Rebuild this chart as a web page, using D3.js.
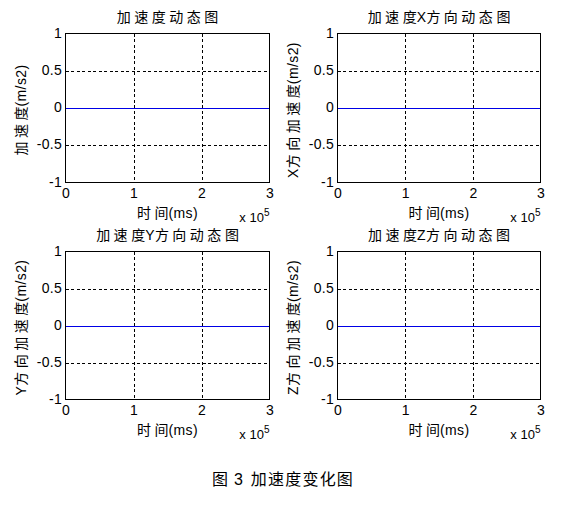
<!DOCTYPE html>
<html><head><meta charset="utf-8">
<script src="https://cdn.jsdelivr.net/npm/d3@7"></script>
<style>
html,body{margin:0;padding:0;background:#fff;}
svg{display:block;}
</style></head>
<body>
<svg id="chart" width="568" height="512"></svg>
<script>
// ---- data ----
const timeMs = [0, 50000, 100000, 150000, 200000, 250000, 300000];
const accTotal = [0, 0, 0, 0, 0, 0, 0];
const accX = [0, 0, 0, 0, 0, 0, 0];
const accY = [0, 0, 0, 0, 0, 0, 0];
const accZ = [0, 0, 0, 0, 0, 0, 0];
const xTickValues = [0, 100000, 200000, 300000];
const xTickLabels = ["0", "1", "2", "3"];
const yTickValues = [-1, -0.5, 0, 0.5, 1];
const yTickLabels = ["-1", "-0.5", "0", "0.5", "1"];
const titles = ["加速度动态图", "加速度X方向动态图", "加速度Y方向动态图", "加速度Z方向动态图"];
const yLabels = ["加速度(m/s2)", "X方向加速度(m/s2)", "Y方向加速度(m/s2)", "Z方向加速度(m/s2)"];
const xLabel = "时间(ms)";
const xExponent = "5";
const caption = ["图", "3", "加速度变化图"];
const seriesList = [accTotal, accX, accY, accZ];

// ---- layout ----
const cols = [[65.5, 269.5], [337.5, 540.5]];
const rows = [[33.5, 182.5], [251.5, 399.5]];
const CJK = '"Noto Sans CJK SC", "Noto Sans CJK JP", sans-serif';
const LAT = '"Liberation Sans", Arial, sans-serif';

const svg = d3.select("#chart");

function isCJK(ch){ return /[\u3000-\u9fff\uff00-\uffef]/.test(ch); }
function richText(sel, str, cjkSize, latSize, cjkSpacing){
  const chars = Array.from(str);
  const runs = [];
  chars.forEach((ch, k) => {
    const c = isCJK(ch);
    const next = chars[k + 1];
    // spacing only between consecutive CJK chars
    const sp = c && next !== undefined && isCJK(next) ? cjkSpacing : (c ? 0 : 0.4);
    const key = (c ? "c" : "l") + sp;
    if (runs.length && runs[runs.length - 1].key === key) runs[runs.length - 1].t += ch;
    else runs.push({key, c, sp, t: ch});
  });
  runs.forEach(r => {
    sel.append("tspan")
      .attr("font-family", r.c ? CJK : LAT)
      .attr("font-size", r.c ? cjkSize : latSize)
      .attr("letter-spacing", r.sp)
      .text(r.t);
  });
  return sel;
}

seriesList.forEach((vals, i) => {
  const [x0, x1] = cols[i % 2];
  const [y0, y1] = rows[Math.floor(i / 2)];
  const x = d3.scaleLinear().domain([0, 300000]).range([x0, x1]);
  const y = d3.scaleLinear().domain([-1, 1]).range([y1, y0]);
  const g = svg.append("g");

  // grid
  g.selectAll(".gx").data(xTickValues.slice(1, -1)).join("line")
    .attr("x1", d => Math.round(x(d)) + 0.5).attr("x2", d => Math.round(x(d)) + 0.5)
    .attr("y1", y0).attr("y2", y1)
    .attr("stroke", "#000").attr("stroke-width", 1).attr("stroke-dasharray", "3,2.5")
    .attr("shape-rendering", "crispEdges");
  g.selectAll(".gy").data(yTickValues.slice(1, -1)).join("line")
    .attr("x1", x0).attr("x2", x1)
    .attr("y1", d => Math.round(y(d)) + 0.5).attr("y2", d => Math.round(y(d)) + 0.5)
    .attr("stroke", "#000").attr("stroke-width", 1).attr("stroke-dasharray", "3,2.5")
    .attr("shape-rendering", "crispEdges");

  // data line
  const line = d3.line().x((d, k) => x(timeMs[k])).y(d => Math.round(y(d)) + 0.5);
  g.append("path").datum(vals).attr("d", line)
    .attr("fill", "none").attr("stroke", "#0000e6").attr("stroke-width", 1)
    .attr("shape-rendering", "crispEdges");

  // box
  g.append("rect").attr("x", x0).attr("y", y0).attr("width", x1 - x0).attr("height", y1 - y0)
    .attr("fill", "none").attr("stroke", "#000").attr("stroke-width", 1)
    .attr("shape-rendering", "crispEdges");

  // y tick labels
  g.selectAll(".yl").data(yTickValues).join("text")
    .attr("x", x0 - 3.5).attr("y", d => y(d) + 4)
    .attr("text-anchor", "end")
    .attr("font-family", LAT).attr("font-size", 14).attr("letter-spacing", 0.3)
    .attr("fill", "#000")
    .text((d, k) => yTickLabels[k]);

  // x tick labels
  g.selectAll(".xl").data(xTickValues).join("text")
    .attr("x", d => x(d) + 0.5).attr("y", y1 + 15.5)
    .attr("text-anchor", "middle")
    .attr("font-family", LAT).attr("font-size", 14)
    .attr("fill", "#000")
    .text((d, k) => xTickLabels[k]);

  // exponent
  const ex = g.append("text").attr("x", x1).attr("y", y1 + 39.5)
    .attr("text-anchor", "end").attr("font-family", LAT).attr("font-size", 13).attr("fill", "#000");
  ex.append("tspan").text("x  10");
  ex.append("tspan").attr("font-size", 10).attr("dy", -6).text(xExponent);

  // title
  const cx = (x0 + x1) / 2;
  richText(g.append("text").attr("x", cx).attr("y", y0 - 11.5)
    .attr("text-anchor", "middle").attr("fill", "#000").attr("xml:space", "preserve"), titles[i], 14, 14, 3.5);

  // x label
  richText(g.append("text").attr("x", cx).attr("y", y1 + 35)
    .attr("text-anchor", "middle").attr("fill", "#000"), xLabel, 14, 14, 3.5);

  // y label
  const cy = (y0 + y1) / 2;
  richText(g.append("text")
    .attr("transform", `translate(${x0 - 40},${cy + 2}) rotate(-90)`)
    .attr("text-anchor", "middle").attr("fill", "#000"), yLabels[i], 14, 14, 3.5);
});

// caption
const cap = svg.append("text").attr("x", 283).attr("y", 485)
  .attr("text-anchor", "middle").attr("fill", "#000");
cap.append("tspan").attr("font-family", CJK).attr("font-size", 16).text(caption[0]);
cap.append("tspan").attr("font-family", LAT).attr("font-size", 16).attr("dx", 6).text(caption[1]);
cap.append("tspan").attr("font-family", CJK).attr("font-size", 16).attr("dx", 8).attr("letter-spacing", 1.2).text(caption[2]);
</script>
</body></html>
